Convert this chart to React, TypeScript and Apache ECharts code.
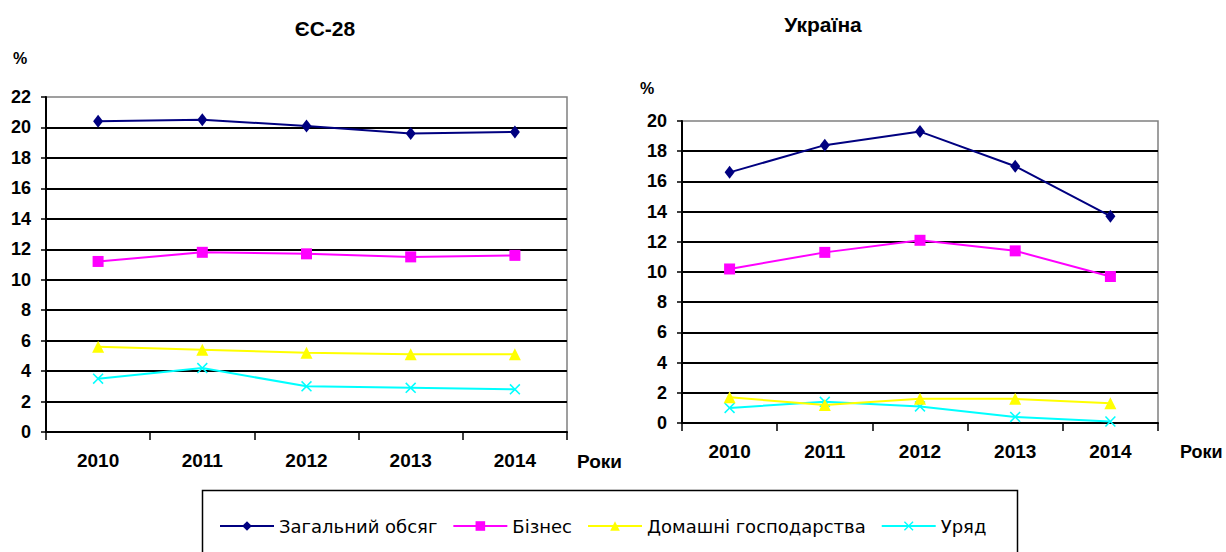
import React, { useEffect, useRef } from "react";
import * as echarts from "echarts";

const years = ["2010", "2011", "2012", "2013", "2014"];
const seriesNames = ["Загальний обсяг", "Бізнес", "Домашні господарства", "Уряд"];

const euTotal = [20.4, 20.5, 20.1, 19.6, 19.7];
const euBusiness = [11.2, 11.8, 11.7, 11.5, 11.6];
const euHouseholds = [5.6, 5.4, 5.2, 5.1, 5.1];
const euGovernment = [3.5, 4.2, 3.0, 2.9, 2.8];

const uaTotal = [16.6, 18.4, 19.3, 17.0, 13.7];
const uaBusiness = [10.2, 11.3, 12.1, 11.4, 9.7];
const uaHouseholds = [1.7, 1.2, 1.6, 1.6, 1.3];
const uaGovernment = [1.0, 1.4, 1.1, 0.4, 0.1];

const colors = ["#000080", "#FF00FF", "#FFFF00", "#00FFFF"];
const symbols = [
  "diamond",
  "rect",
  "triangle",
  "path://M0,1L1,0L5,4L9,0L10,1L6,5L10,9L9,10L5,6L1,10L0,9L4,5Z",
];
const symbolSizes: any[] = [[10, 13], 11, 12, 11];

const sans = "'Liberation Sans', Arial, sans-serif";
const legendFont = "'DejaVu Sans', sans-serif";

export default function App() {
  const ref = useRef<HTMLDivElement>(null);
  useEffect(() => {
    document.body.style.margin = "0";
    const chart = echarts.init(ref.current!, null, { renderer: "svg" });
    const xAxisBase = (gridIndex: number) => ({
      type: "category",
      gridIndex,
      data: years,
      boundaryGap: true,
      axisLine: { show: true, lineStyle: { color: "#000", width: 2 } },
      axisTick: { show: true, length: 8, lineStyle: { color: "#000", width: 1.5 } },
      axisLabel: {
        color: "#000",
        fontFamily: sans,
        fontWeight: "bold",
        fontSize: 19,
        margin: 19,
      },
      splitLine: { show: false },
    });
    const yAxisBase = (gridIndex: number, max: number) => ({
      type: "value",
      gridIndex,
      min: 0,
      max,
      interval: 2,
      axisLine: { show: true, lineStyle: { color: "#000", width: 2 } },
      axisTick: { show: true, length: 5, lineStyle: { color: "#000", width: 1.5 } },
      axisLabel: {
        color: "#000",
        fontFamily: sans,
        fontWeight: "bold",
        fontSize: 18,
        margin: 15,
      },
      splitLine: { show: true, showMaxLine: false, lineStyle: { color: "#000", width: 2 } },
    });
    const euData = [euTotal, euBusiness, euHouseholds, euGovernment];
    const uaData = [uaTotal, uaBusiness, uaHouseholds, uaGovernment];
    const mk = (data: number[], i: number, idx: number) => ({
      type: "line",
      name: seriesNames[i],
      xAxisIndex: idx,
      yAxisIndex: idx,
      data,
      symbol: symbols[i],
      symbolSize: symbolSizes[i],
      showAllSymbol: true,
      lineStyle: { color: colors[i], width: 2 },
      itemStyle: { color: colors[i] },
      z: 10 - i,
    });
    const series: any[] = [];
    euData.forEach((d, i) => series.push(mk(d, i, 0)));
    uaData.forEach((d, i) => series.push(mk(d, i, 1)));

    chart.setOption({
      animation: false,
      backgroundColor: "#fff",
      title: [
        {
          text: "ЄС-28",
          left: 320,
          top: 13,
          textAlign: "center",
          textStyle: { fontFamily: sans, fontWeight: "bold", fontSize: 21, color: "#000" },
        },
        {
          text: "Україна",
          left: 818,
          top: 9,
          textAlign: "center",
          textStyle: { fontFamily: sans, fontWeight: "bold", fontSize: 21, color: "#000" },
        },
      ],
      grid: [
        { left: 46, top: 97, width: 521, height: 335, show: true, borderColor: "#808080", borderWidth: 1.5 },
        { left: 682, top: 121, width: 476, height: 302, show: true, borderColor: "#808080", borderWidth: 1.5 },
      ],
      xAxis: [xAxisBase(0), xAxisBase(1)],
      yAxis: [yAxisBase(0, 22), yAxisBase(1, 20)],
      legend: {
        data: seriesNames,
        left: 214,
        top: 512,
        itemWidth: 54,
        itemHeight: 12,
        itemGap: 15,
        textStyle: { fontFamily: legendFont, fontSize: 18, color: "#000" },
      },
      graphic: [
        { type: "rect", left: 200, top: 488, shape: { width: 815, height: 80 }, style: { fill: "none", stroke: "#000", lineWidth: 1.5 } },
        { type: "text", x: 20, y: 58, style: { text: "%", font: `bold 16px ${sans}`, fill: "#000", textAlign: "center", textVerticalAlign: "middle" } },
        { type: "text", x: 647, y: 88, style: { text: "%", font: `bold 16px ${sans}`, fill: "#000", textAlign: "center", textVerticalAlign: "middle" } },
        { type: "text", x: 577, y: 461, style: { text: "Роки", font: `bold 19px ${sans}`, fill: "#000", textAlign: "left", textVerticalAlign: "middle" } },
        { type: "text", x: 1180, y: 452, style: { text: "Роки", font: `bold 18px ${sans}`, fill: "#000", textAlign: "left", textVerticalAlign: "middle" } },
      ],
      series,
    });
    return () => chart.dispose();
  }, []);
  return <div ref={ref} style={{ width: 1226, height: 552 }} />;
}
